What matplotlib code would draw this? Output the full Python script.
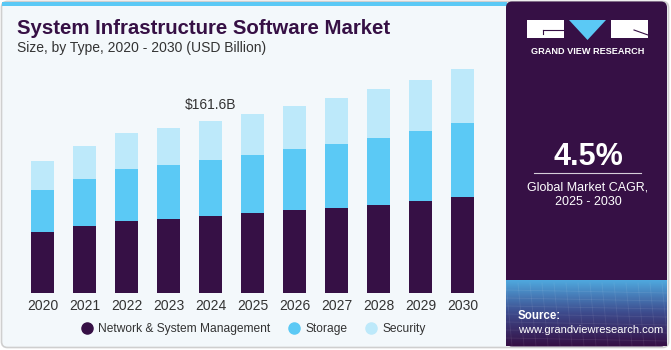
import numpy as np
import matplotlib.pyplot as plt
from matplotlib.patches import Rectangle, Polygon, FancyBboxPatch
from matplotlib.colors import LinearSegmentedColormap
from matplotlib.lines import Line2D

plt.rcParams['font.family'] = ['Liberation Sans', 'DejaVu Sans']

years = ['2020', '2021', '2022', '2023', '2024', '2025', '2026', '2027', '2028', '2029', '2030']
network = [57.3, 63.3, 68.0, 69.8, 72.3, 74.9, 77.7, 80.2, 83.0, 86.4, 90.2]
storage = [39.5, 43.9, 48.6, 50.5, 52.6, 54.8, 57.6, 60.1, 63.0, 66.1, 69.8]
security = [27.3, 31.0, 33.5, 35.1, 36.7, 38.5, 40.7, 42.9, 45.5, 47.6, 50.2]
series_names = ['Network & System Management', 'Storage', 'Security']
label_year = '2024'
label_text = '$161.6B'
cagr = '4.5%'

c_net = '#361045'
c_sto = '#5BC9F5'
c_sec = '#BDE9FA'
bg = '#F3F8FB'
dark = '#361045'

W, H = 671, 350
fig = plt.figure(figsize=(W / 100, H / 100), dpi=100)

# full-figure overlay in pixel coordinates for the frame and side panel
ov = fig.add_axes([0, 0, 1, 1], zorder=0)
ov.axis('off')

ov.add_patch(FancyBboxPatch((1.5, 1.5), W - 4, H - 4, boxstyle='round,pad=0,rounding_size=6',
                            fc=bg, ec='#CFCFCF', lw=1.2))
ov.add_patch(Rectangle((2, 1.5), 505, 4.5, fc='#5BC9F5', ec='none'))

# side panel
ov.add_patch(FancyBboxPatch((506, 1.5), 161, 345, boxstyle='round,pad=0,rounding_size=6',
                            fc=dark, ec='none'))
# gradient at the bottom of the panel
grad = np.linspace(0, 1, 100)[:, None]
cm = LinearSegmentedColormap.from_list('g', [dark, '#3D4A8C', '#4FA8DE'])
ov.imshow(grad, extent=(506, 667, 280, 346), cmap=cm, aspect='auto', zorder=1)
for yy in np.arange(290, 346, 8):
    ov.plot([506, 667], [yy, yy + 3], color='white', alpha=0.08, lw=0.6, zorder=2)
for xx in np.arange(506, 667, 12):
    ov.plot([xx, xx + 6], [283, 346], color='white', alpha=0.08, lw=0.6, zorder=2)
ov.set_xlim(0, W)
ov.set_ylim(H, 0)

# logo
ov.add_patch(Rectangle((527, 20), 37, 18, fc='white', ec='none', zorder=3))
ov.plot([543, 563], [30, 30], color=dark, lw=0.8, zorder=4)
ov.plot([543, 543], [30, 34], color=dark, lw=0.8, zorder=4)
ov.add_patch(Polygon([(569, 20), (606, 20), (587.5, 40)], closed=True, fc='#5BC9F5', ec='none', zorder=3))
ov.add_patch(Rectangle((611, 20), 37, 18, fc='white', ec='none', zorder=3))
ov.plot([634, 648], [30, 35], color=dark, lw=0.8, zorder=4)
ov.text(587.5, 51, 'GRAND VIEW RESEARCH', color='white', fontsize=6.6, fontweight='bold',
        ha='center', va='center', zorder=3)

ov.text(588, 157, cagr, color='white', fontsize=22, fontweight='bold', ha='center', va='center', zorder=3)
ov.plot([534, 641], [173, 173], color='white', lw=0.8, alpha=0.8, zorder=3)
ov.text(588, 188, 'Global Market CAGR,', color='white', fontsize=9, ha='center', va='center', zorder=3)
ov.text(588, 202, '2025 - 2030', color='white', fontsize=9, ha='center', va='center', zorder=3)
ov.text(518, 316, 'Source:', color='white', fontsize=8.3, fontweight='bold', ha='left', va='center', zorder=3)
ov.text(518, 330, 'www.grandviewresearch.com', color='white', fontsize=8.0, ha='left', va='center', zorder=3)

# titles
ov.text(17, 28, 'System Infrastructure Software Market', color=dark, fontsize=14.7,
        fontweight='bold', ha='left', va='center')
ov.text(17, 48, 'Size, by Type, 2020 - 2030 (USD Billion)', color='#333333', fontsize=10,
        ha='left', va='center')

# chart
ax = fig.add_axes([11 / W, 57 / H, 483 / W, 255.5 / H], zorder=2)
ax.patch.set_alpha(0)
x = np.arange(len(years))
bw = 0.55
ax.bar(x, network, bw, color=c_net)
ax.bar(x, storage, bw, bottom=network, color=c_sto)
bottom2 = np.array(network) + np.array(storage)
ax.bar(x, security, bw, bottom=bottom2, color=c_sec)
ax.set_xlim(-0.75, len(years) - 0.25)
ax.set_ylim(0, 240)
ax.set_xticks(x)
ax.set_xticklabels(years, fontsize=10, color='#333333')
ax.tick_params(axis='x', length=0, pad=4)
ax.set_yticks([])
for s in ax.spines.values():
    s.set_visible(False)

i = years.index(label_year)
tot = network[i] + storage[i] + security[i]
ax.text(x[i], tot + 8, label_text, ha='center', va='bottom', fontsize=10, color='#333333')

handles = [Line2D([], [], marker='o', ls='none', markersize=8, color=c) for c in [c_net, c_sto, c_sec]]
ax.legend(handles, series_names, loc='center', bbox_to_anchor=(243 / 483, -0.14), ncol=3, frameon=False,
          fontsize=8.65, handlelength=0.8, columnspacing=1.6, handletextpad=0.5, labelcolor='#333333')

fig.savefig('out.png', dpi=100, facecolor='white')
